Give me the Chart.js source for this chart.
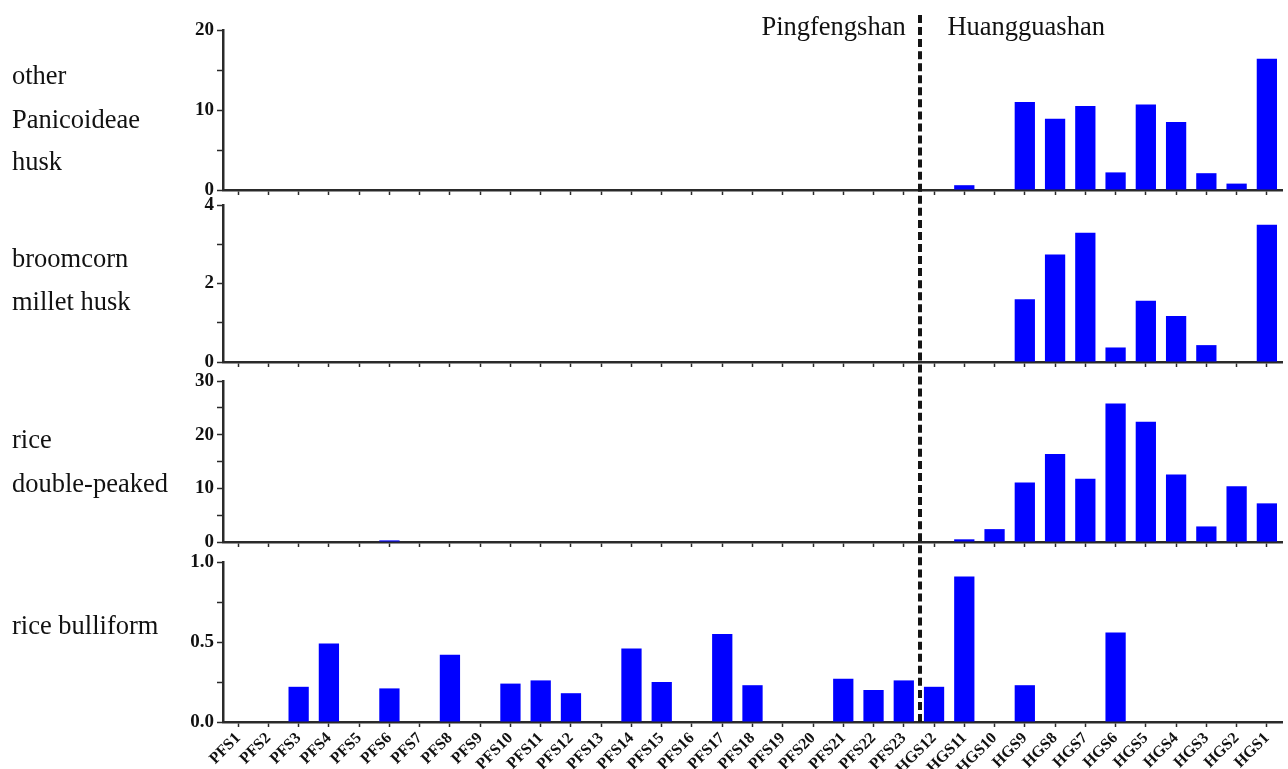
<!DOCTYPE html>
<html>
<head>
<meta charset="utf-8">
<script src="https://cdn.jsdelivr.net/npm/chart.js@4.4.1/dist/chart.umd.min.js"></script>
<style>
  html, body { margin: 0; padding: 0; background: #fff; }
  #wrap { position: relative; width: 1288px; height: 769px; overflow: hidden; background: #fff; }
  #wrap canvas { position: absolute; left: 0; top: 0; }
  .lbl { position: absolute; font-family: "Liberation Serif", "Times New Roman", serif; font-size: 26.5px; line-height: 26px; color: #111; white-space: nowrap; }
  #sep { position: absolute; width: 0; border-left: 4px dashed #151515; }
</style>
</head>
<body>
<div id="wrap">
  <canvas id="c1" width="1288" height="769"></canvas>
  <canvas id="c2" width="1288" height="769"></canvas>
  <canvas id="c3" width="1288" height="769"></canvas>
  <canvas id="c4" width="1288" height="769"></canvas>
  <div id="sep"></div>
  <div class="lbl" style="left:12px;top:62px">other</div>
  <div class="lbl" style="left:12px;top:106px">Panicoideae</div>
  <div class="lbl" style="left:12px;top:148px">husk</div>
  <div class="lbl" style="left:12px;top:245px">broomcorn</div>
  <div class="lbl" style="left:12px;top:288px">millet husk</div>
  <div class="lbl" style="left:12px;top:426px">rice</div>
  <div class="lbl" style="left:12px;top:470px">double-peaked</div>
  <div class="lbl" style="left:12px;top:612px">rice bulliform</div>
  <div class="lbl" id="siteL">Pingfengshan</div>
  <div class="lbl" id="siteR">Huangguashan</div>
</div>
<script>
// ---- data ----
const categories = [
  'PFS1','PFS2','PFS3','PFS4','PFS5','PFS6','PFS7','PFS8','PFS9','PFS10',
  'PFS11','PFS12','PFS13','PFS14','PFS15','PFS16','PFS17','PFS18','PFS19','PFS20',
  'PFS21','PFS22','PFS23',
  'HGS12','HGS11','HGS10','HGS9','HGS8','HGS7','HGS6','HGS5','HGS4','HGS3','HGS2','HGS1'
];
const panicoideaeHusk = [
  0,0,0,0,0,0,0,0,0,0, 0,0,0,0,0,0,0,0,0,0, 0,0,0,
  0,0.6,0,11.0,8.9,10.5,2.2,10.7,8.5,2.1,0.8,16.4
];
const broomcornHusk = [
  0,0,0,0,0,0,0,0,0,0, 0,0,0,0,0,0,0,0,0,0, 0,0,0,
  0,0,0,1.6,2.74,3.29,0.37,1.56,1.17,0.43,0,3.5
];
const riceDoublePeaked = [
  0,0,0,0,0,0.3,0,0,0,0, 0,0,0,0,0,0,0,0,0,0, 0,0,0,
  0,0.5,2.4,11.1,16.4,11.8,25.8,22.4,12.6,2.9,10.4,7.2
];
const riceBulliform = [
  0,0,0.22,0.49,0,0.21,0,0.42,0,0.24,
  0.26,0.18,0,0.46,0.25,0,0.55,0.23,0,0,
  0.27,0.2,0.26,
  0.22,0.91,0,0.23,0,0,0.56,0,0,0,0,0
];
const siteNames = ['Pingfengshan', 'Huangguashan'];
const boundaryIndex = 22.5; // between PFS23 and HGS12

// y axis settings per panel
const yMax = [20, 4, 30, 1.0];
const yMinor = [5, 1, 5, 0.25];
const yMajor = [10, 2, 10, 0.5];
const yDecimals = [0, 0, 0, 1];

// ---- layout ----
const W = 1288, H = 769;
const AXIS_LEFT = 223;
const panelTop = [30, 205, 381, 562];
const panelBottom = [190, 362, 542, 722];
const axisColor = '#2a2a2a';
const tickFont = { family: '"Liberation Serif", "Times New Roman", serif', size: 19, weight: 'bold' };
const xFont = { family: '"Liberation Serif", "Times New Roman", serif', size: 16, weight: 'bold' };

const seriesList = [panicoideaeHusk, broomcornHusk, riceDoublePeaked, riceBulliform];
const charts = [];

seriesList.forEach((series, i) => {
  const isBottom = i === 3;
  const xH = isBottom ? (H - panelBottom[i]) : 8;
  const padBottom = isBottom ? 0 : (H - panelBottom[i] - xH);
  const ctx = document.getElementById('c' + (i + 1));
  const chart = new Chart(ctx, {
    type: 'bar',
    data: {
      labels: categories,
      datasets: [{
        data: series,
        backgroundColor: '#0000ff',
        borderWidth: 0,
        barPercentage: 0.67,
        categoryPercentage: 1.0
      }]
    },
    options: {
      responsive: false,
      animation: false,
      events: [],
      layout: { padding: { top: panelTop[i], bottom: padBottom, left: 0, right: 6 } },
      plugins: { legend: { display: false }, tooltip: { enabled: false }, title: { display: false } },
      scales: {
        x: {
          offset: true,
          grid: { display: true, drawOnChartArea: false, offset: false, tickLength: 5, tickColor: axisColor, tickWidth: 1.5 },
          border: { display: true, color: axisColor, width: 2.5 },
          ticks: {
            display: isBottom,
            autoSkip: false,
            maxRotation: 45,
            minRotation: 45,
            padding: 2,
            color: '#111',
            font: xFont
          },
          afterFit: (s) => { s.height = xH; }
        },
        y: {
          min: 0,
          max: yMax[i],
          grid: { display: true, drawOnChartArea: false, tickLength: 6, tickColor: axisColor, tickWidth: 1.5 },
          border: { display: true, color: axisColor, width: 2.5 },
          ticks: {
            stepSize: yMinor[i],
            autoSkip: false,
            padding: 3,
            color: '#111',
            font: tickFont,
            callback: (v) => {
              const r = v / yMajor[i];
              return Math.abs(r - Math.round(r)) < 1e-6 ? Number(v).toFixed(yDecimals[i]) : '';
            }
          },
          afterFit: (s) => { s.width = AXIS_LEFT; }
        }
      }
    }
  });
  charts.push(chart);
});

// dashed separator and site names placed from the bottom chart's x scale
const xs = charts[3].scales.x;
const sepX = xs.getPixelForValue(boundaryIndex) + 1.5;
const sep = document.getElementById('sep');
sep.style.left = (sepX - 2) + 'px';
sep.style.top = '15px';
sep.style.height = (charts[3].chartArea.bottom - 15) + 'px';

const siteL = document.getElementById('siteL');
siteL.textContent = siteNames[0];
siteL.style.top = '13px';
siteL.style.left = (sepX - 15 - siteL.offsetWidth) + 'px';
const siteR = document.getElementById('siteR');
siteR.textContent = siteNames[1];
siteR.style.top = '13px';
siteR.style.left = (sepX + 27) + 'px';
</script>
</body>
</html>
